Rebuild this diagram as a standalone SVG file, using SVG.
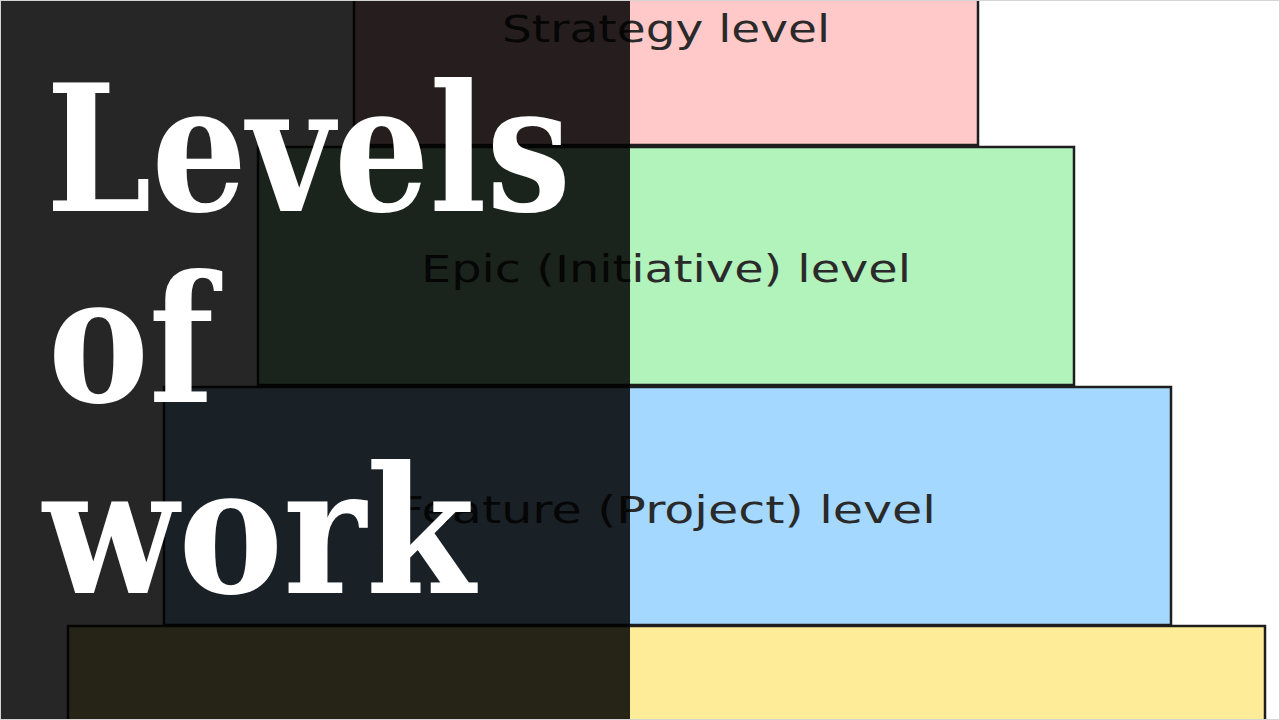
<svg xmlns="http://www.w3.org/2000/svg" width="1280" height="720" viewBox="0 0 1280 720">
  <style>
    .lvl { stroke: #1e1e1e; stroke-width: 2.5; }
    .lbl { font-family: "DejaVu Sans", "Liberation Sans", sans-serif; font-size: 37px; fill: #2a2a2a; text-anchor: middle; }
    .title { font-family: "DejaVu Serif", "Liberation Serif", serif; font-weight: bold; font-size: 176px; fill: #ffffff; }
  </style>
  <rect x="0" y="0" width="1280" height="720" fill="#ffffff"/>
  <g id="strategy">
    <rect class="lvl" x="354" y="-10" width="624" height="155" fill="#ffc9c9"/>
    <text class="lbl" x="666" y="42" textLength="328" lengthAdjust="spacingAndGlyphs">Strategy level</text>
  </g>
  <g id="epic">
    <rect class="lvl" x="258" y="147" width="816" height="238" fill="#b2f2bb"/>
    <text class="lbl" x="666" y="282" textLength="490" lengthAdjust="spacingAndGlyphs">Epic (Initiative) level</text>
  </g>
  <g id="feature">
    <rect class="lvl" x="164" y="387" width="1007" height="238" fill="#a5d8ff"/>
    <text class="lbl" x="666" y="523" textLength="540" lengthAdjust="spacingAndGlyphs">Feature (Project) level</text>
  </g>
  <g id="story">
    <rect class="lvl" x="68" y="626" width="1197" height="120" fill="#ffec99"/>
  </g>
  <g id="connectors"></g>
  <g id="overlay">
    <rect x="0" y="0" width="630" height="720" fill="#000000" fill-opacity="0.85"/>
  </g>
  <g id="title">
    <text class="title" x="46" y="211" textLength="525" lengthAdjust="spacingAndGlyphs">Levels</text>
    <text class="title" x="48" y="402" textLength="166" lengthAdjust="spacingAndGlyphs">of</text>
    <text class="title" x="43" y="593" textLength="432" lengthAdjust="spacingAndGlyphs">work</text>
  </g>
  <rect x="0.5" y="0.5" width="1279" height="719" fill="none" stroke="#d4d4d4" stroke-width="1"/>
</svg>
